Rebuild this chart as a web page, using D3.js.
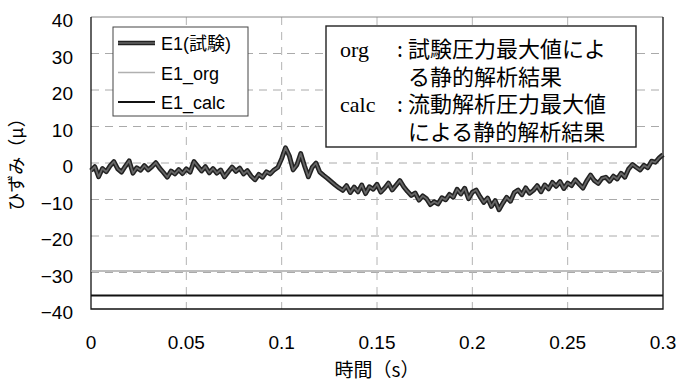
<!DOCTYPE html>
<html>
<head>
<meta charset="utf-8">
<script src="https://cdn.jsdelivr.net/npm/d3@7"></script>
<style>
  body { margin: 0; background: #fff; }
  svg { display: block; }
</style>
</head>
<body>
<div id="chart"></div>
<script>
// data
var xTicks = [0, 0.05, 0.1, 0.15, 0.2, 0.25, 0.3];
var yTicks = [40, 30, 20, 10, 0, -10, -20, -30, -40];
var sampleStep = 0.002; // s, one value every 2 ms
var e1Test = [
  -2.1, -1.0, -3.8, -1.5, -2.4, -0.8, 0.4, -1.6, -2.5, -0.9,
  0.6, -2.8, -1.3, -2.0, -0.7, -1.9, -1.0, 0.1, -1.4, -2.6,
  -3.9, -2.2, -3.0, -1.8, -2.9, -1.6, -2.5, 0.4, -0.9, -2.2,
  -1.0, -2.7, -1.5, -2.8, -1.9, -3.8, -2.4, -1.1, -2.3, -1.4,
  -3.0, -2.1, -3.6, -4.6, -3.1, -3.9, -2.4, -3.0, -1.9, -1.2,
  1.2, 4.2, 2.0, -1.9, -0.5, 2.6, -0.8, -3.8, -1.2, 0.0,
  -2.5, -3.4, -4.2, -5.1, -6.0, -6.8, -7.5, -6.2, -8.1, -6.6,
  -7.9, -6.0, -8.4, -6.5, -7.2, -5.8, -8.0, -6.9, -5.5, -7.4,
  -6.1, -4.8, -6.5, -7.8, -8.9, -8.2, -10.2, -9.0, -9.8, -11.4,
  -10.6, -11.2, -9.5, -10.1, -8.6, -9.4, -7.2, -8.5, -6.9, -9.8,
  -8.0, -7.4, -9.2, -10.8, -9.6, -11.9, -10.3, -12.8, -11.0, -9.4,
  -10.5, -8.1, -7.4, -8.7, -6.8, -8.3, -7.5, -6.2, -7.9, -6.0,
  -7.1, -5.3, -6.4, -5.1, -7.0, -5.5, -6.2, -4.6, -5.8, -6.9,
  -4.9, -3.3, -4.8, -5.6, -4.2, -3.9, -5.0, -3.6, -4.4, -2.8,
  -3.9, -1.6, -0.4, -1.2, -1.9, -0.6, -1.3, 0.5, 0.2, 1.4,
  2.3
];
var e1OrgValue = -29.6;
var e1CalcValue = -36.3;
var legendNames = ["E1(試験)", "E1_org", "E1_calc"];
var noteLines = [
  ["org", "試験圧力最大値によ"],
  ["", "る静的解析結果"],
  ["calc", "流動解析圧力最大値"],
  ["", "による静的解析結果"]
];

var w = 676, h = 383;
var margin = {left: 91, right: 13, top: 17, bottom: 74};

var svg = d3.select("#chart").append("svg")
  .attr("width", w)
  .attr("height", h);

var x = d3.scaleLinear().domain([0, 0.3]).range([margin.left, w - margin.right]);
var y = d3.scaleLinear().domain([-40, 40]).range([h - margin.bottom, margin.top]);

var sans = "'Liberation Sans', Arial, sans-serif";
var jp = "'Noto Sans CJK JP', sans-serif";

// grid
svg.append("g").selectAll("line.gy")
  .data(yTicks.filter(d => d > -40 && d < 40))
  .enter().append("line")
  .attr("x1", x(0)).attr("x2", x(0.3))
  .attr("y1", d => y(d)).attr("y2", d => y(d))
  .attr("stroke", "#aaa")
  .attr("stroke-dasharray", "8,6");

svg.append("g").selectAll("line.gx")
  .data(xTicks.slice(1, -1))
  .enter().append("line")
  .attr("x1", d => x(d)).attr("x2", d => x(d))
  .attr("y1", y(40)).attr("y2", y(-40))
  .attr("stroke", "#b4b4b4")
  .attr("stroke-dasharray", "8,7");

// frame
svg.append("line")
  .attr("x1", x(0)).attr("x2", x(0.3)).attr("y1", y(40)).attr("y2", y(40))
  .attr("stroke", "#888");
svg.append("path")
  .attr("d", "M" + x(0) + "," + y(40) + "V" + y(-40) + "H" + x(0.3) + "V" + y(40))
  .attr("fill", "none")
  .attr("stroke", "#111")
  .attr("stroke-width", 1.3);

// axes labels
svg.append("g").selectAll("text")
  .data(yTicks)
  .enter().append("text")
  .attr("x", 73)
  .attr("y", d => y(d) + 10)
  .attr("text-anchor", "end")
  .attr("font-family", sans)
  .attr("font-size", 19)
  .text(d => d < 0 ? "\u2212" + Math.abs(d) : d);

svg.append("g").selectAll("text")
  .data(xTicks)
  .enter().append("text")
  .attr("x", d => x(d))
  .attr("y", 349)
  .attr("text-anchor", "middle")
  .attr("font-family", sans)
  .attr("font-size", 19)
  .text(d => d);

svg.append("text")
  .attr("x", x(0.15))
  .attr("y", 377)
  .attr("text-anchor", "middle")
  .attr("font-family", jp)
  .attr("font-size", 19)
  .text("時間（s）");

svg.append("text")
  .attr("transform", "translate(23,160) rotate(-90)")
  .attr("text-anchor", "middle")
  .attr("font-family", jp)
  .attr("font-size", 18)
  .text("ひずみ（μ）");

// series
var line = d3.line()
  .x((d, i) => x(i * sampleStep))
  .y(d => y(d));

svg.append("line")
  .attr("x1", x(0)).attr("x2", x(0.3))
  .attr("y1", y(e1OrgValue)).attr("y2", y(e1OrgValue))
  .attr("stroke", "#a8a8a8").attr("stroke-width", 1.6);

svg.append("line")
  .attr("x1", x(0)).attr("x2", x(0.3))
  .attr("y1", y(e1CalcValue)).attr("y2", y(e1CalcValue))
  .attr("stroke", "#111").attr("stroke-width", 1.8);

svg.append("path")
  .datum(e1Test)
  .attr("d", line)
  .attr("fill", "none")
  .attr("stroke", "#222")
  .attr("stroke-width", 4.8)
  .attr("stroke-linejoin", "round");
svg.append("path")
  .datum(e1Test)
  .attr("d", line)
  .attr("fill", "none")
  .attr("stroke", "#666")
  .attr("stroke-width", 1.8)
  .attr("stroke-linejoin", "round");

// legend
var lg = svg.append("g");
lg.append("rect")
  .attr("x", 113).attr("y", 27).attr("width", 135).attr("height", 89)
  .attr("fill", "#fff").attr("stroke", "#444");
var legendStyles = [
  {stroke: "#222", width: 4.5, inner: "#666"},
  {stroke: "#b0b0b0", width: 1.6},
  {stroke: "#111", width: 1.8}
];
var entries = lg.selectAll("g.entry")
  .data(legendNames)
  .enter().append("g")
  .attr("transform", (d, i) => "translate(0," + (43 + i * 29.5) + ")");
entries.append("line")
  .attr("x1", 118).attr("x2", 155)
  .attr("stroke", (d, i) => legendStyles[i].stroke)
  .attr("stroke-width", (d, i) => legendStyles[i].width);
entries.filter((d, i) => legendStyles[i].inner)
  .append("line")
  .attr("x1", 118).attr("x2", 155)
  .attr("stroke", "#666").attr("stroke-width", 1.6);
entries.append("text")
  .attr("x", 161)
  .attr("y", 7)
  .attr("font-family", sans + ", " + jp)
  .attr("font-size", 18)
  .text(d => d);

// note box
var nb = svg.append("g");
nb.append("rect")
  .attr("x", 326).attr("y", 26).attr("width", 310).attr("height", 121)
  .attr("fill", "#fff").attr("stroke", "#222").attr("stroke-width", 1.4);
var notes = nb.selectAll("g.note")
  .data(noteLines)
  .enter().append("g")
  .attr("transform", (d, i) => "translate(0," + (57 + i * 27.5) + ")");
notes.append("text")
  .attr("x", 340)
  .attr("font-family", "'Liberation Serif', 'DejaVu Serif', serif")
  .attr("font-size", 22)
  .text(d => d[0]);
notes.filter(d => d[0] !== "").append("text")
  .attr("x", 397)
  .attr("font-family", jp)
  .attr("font-size", 21)
  .text(":");
notes.append("text")
  .attr("x", 408)
  .attr("font-family", jp)
  .attr("font-size", 22)
  .text(d => d[1]);
</script>
</body>
</html>
